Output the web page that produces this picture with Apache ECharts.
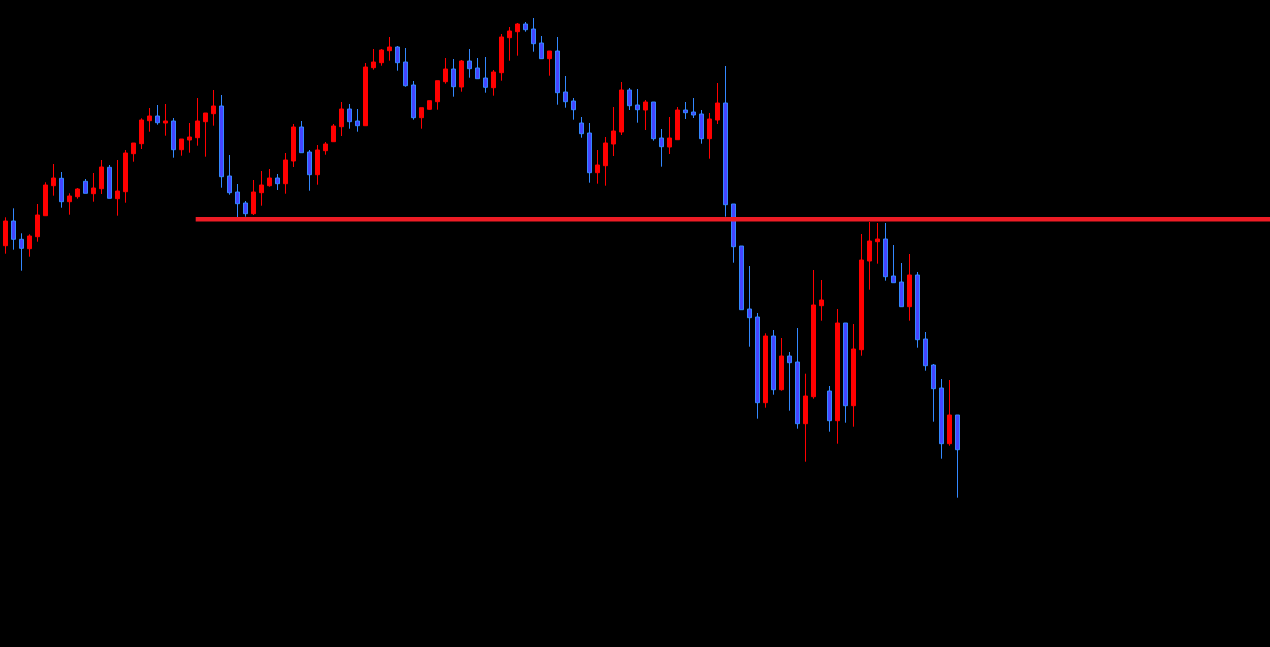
<!DOCTYPE html>
<html><head><meta charset="utf-8">
<script src="https://cdn.jsdelivr.net/npm/echarts@6/dist/echarts.min.js"></script>
<style>html,body{margin:0;padding:0;background:#000;}#c{width:1270px;height:647px;}</style>
</head><body><div id="c"></div>
<script>
// Prices (arbitrary units; no axis labels are shown)
const opens = [
401.3,426,407.7,398.3,410.3,431.3,461.3,468.7,445.3,450.3,
465.7,453.3,458.3,479.7,448.3,455.3,493.3,503.3,526.3,531,
524,526,497.3,507,509.3,525.3,533.3,541,471,455,
444,433.3,454.3,461.3,469,463.3,486,520,495,472.3,
496.3,505.3,520.3,538,526,521.3,579.3,584.3,596.3,600,
585,562,529.3,537.7,545.3,565.3,578,560,586,579,
569,559.3,574.3,609.3,615.3,623,618,604,588.3,596,
555,546,524,514,474.3,481.3,503,515,557,542,
537,545,509,500,507.3,537,535,533,508.3,527,
544,443,401,338,330,244.3,311,257.3,291,285,
223.3,250.3,341.3,256,226.3,324,241.3,297.3,386,405.3,
408,371,365,340.3,372,308,282,259,203.3,232];
const closes = [
426,407.7,398.7,411,432,462,469,445.3,451,458,
453.7,459,480,448.7,456,494,504,527,531,524.3,
526,497.3,508,510,526,534,541,470.3,454.3,443.3,
433.3,455,462,469,463.3,487,520,494.3,472.3,497,
503,521,538,525.3,521.3,580,585,597,600,584.3,
561.3,529.3,539.3,546.3,566.3,578,560.3,586,578.3,568.3,
559.7,575,610,616,623,617.3,603.3,588.3,596,554.3,
545.3,537.3,513.3,474.3,482,504,516,557,541.3,537.3,
545,508.3,500.3,509,537,534.3,532,508.3,528,544,
442.3,400.3,337.3,329.3,244.3,311,257.3,291,284.3,223.3,
251,342,347,226.3,324,241.3,298,387,406,408,
370.3,364.3,340.3,372,307.3,281.3,258.3,203.3,232,197.3];
const lows = [
393.3,397.3,376.3,390.3,405.3,431.3,451.3,439.3,432.3,448.3,
453.7,445.3,453,448.7,431.3,444.3,485.3,498,515.3,522.3,
511.3,489.3,491.3,494.3,501.3,490.3,521.3,459.3,452.3,430,
430.3,432,441.3,460.3,457,453.3,480,494.3,456.3,462.3,
492.3,505.3,511,518.3,515.3,521.3,577.3,581.3,586.3,576.3,
560.3,527.3,518.3,537.3,537.3,563.3,550.3,555.3,569.3,568.3,
554.3,551.3,566.3,586.3,591.3,615.3,595.3,588.3,571.3,542.3,
539.3,527.3,509.3,464.3,463.3,461.3,491,512,537,524.3,
517,506.3,480.3,493,507.3,528,529,503.3,488.3,523,
430.3,384.3,337.3,300.3,228.3,239.3,252.3,256.3,236.3,218.3,
185.3,248.3,326.3,215.3,203.3,224.3,220.3,291.3,357.3,383.3,
366.3,364.3,340.3,326.3,299.3,276.3,225.3,188.3,201.3,149.3];
const highs = [
429.7,438.7,413.7,412.7,443,464.7,483,475,453.7,459,
468,474,487,482,487,497,504,528.7,539,542,
543,529,508,524,549,534,557,552,492,463,
446,467,476,478,473,494,523,526,497,502,
505,523,545,543,538,584,598,598,610,601,
599,566,539.3,546.3,566.3,589,588,587,598,589,
590,577,613,620,624,625,629,611,596,610,
571,549,530,524,497,510,540,565,559,558,
547,545,518,530,540,545,549,537,534,564,
581,443,401,381,334,313.7,317,309,295,319,
273.3,377,367,261,338,324,323,413,425,424,
424,402,384,393,375,315,283,268,267,232];
// horizontal level line (start given in bar units)
const levelPrice = 427.7;
const levelStartBar = 23.8;

const categories = opens.map((_, i) => String(i + 1));
const candles = opens.map((o, i) => [o, closes[i], lows[i], highs[i]]);

const W = 1270, H = 647, LEFT = 1.3, BAR = 8;
const chart = echarts.init(document.getElementById('c'));
chart.setOption({
  backgroundColor: '#000000',
  animation: false,
  grid: [
    { left: LEFT, top: 0, width: categories.length * BAR, height: H },
    { left: LEFT, top: 0, width: W - LEFT, height: H }
  ],
  xAxis: [
    { type: 'category', gridIndex: 0, data: categories, boundaryGap: true, show: false },
    { type: 'value', gridIndex: 1, min: -0.5, max: -0.5 + (W - LEFT) / BAR, show: false }
  ],
  yAxis: [
    { type: 'value', gridIndex: 0, min: 0, max: 647, show: false },
    { type: 'value', gridIndex: 1, min: 0, max: 647, show: false }
  ],
  series: [
    {
      type: 'candlestick',
      xAxisIndex: 0, yAxisIndex: 0,
      data: candles,
      barWidth: 4,
      itemStyle: {
        color: '#FF0000', borderColor: '#FF0000',
        color0: '#4545FF', borderColor0: '#3388FF',
        borderWidth: 1
      },
      z: 2
    },
    {
      type: 'line',
      xAxisIndex: 1, yAxisIndex: 1,
      data: [[levelStartBar, levelPrice], [-0.5 + (W - LEFT) / BAR, levelPrice]],
      symbol: 'none',
      lineStyle: { color: '#EE1C25', width: 4.5, cap: 'butt' },
      z: 5
    }
  ]
});
</script>
</body></html>
